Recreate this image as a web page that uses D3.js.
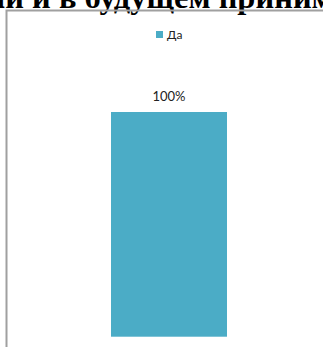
<!DOCTYPE html>
<html><head><meta charset="utf-8">
<script src="https://cdn.jsdelivr.net/npm/d3@7"></script>
<style>html,body{margin:0;padding:0;background:#fff;overflow:hidden}</style>
</head><body>
<svg id="c" width="323" height="347"></svg>
<script>
const categories = ["1"];
const seriesName = "Да";
const values = [1.0];
const dataLabels = ["100%"];
const titleText = "ли и в будущем принимать";

const svg = d3.select("#c");
const color = "#4bacc6";

// title (cut off at top, as in the reference)
svg.append("text").attr("x", -13).attr("y", 7.5)
  .attr("font-family", "Liberation Serif").attr("font-weight", "bold")
  .attr("font-size", 32.5).attr("fill", "#000").text(titleText);

// chart area border
svg.append("path").attr("d", "M6.5,347 V10.5 H323")
  .attr("fill", "none").attr("stroke", "#a0a0a0").attr("stroke-width", 2);

const x = d3.scaleBand().domain(categories).range([53, 285]).paddingInner(0.5).paddingOuter(0.25);
const y = d3.scaleLinear().domain([0, 1]).range([336.7, 112]);

svg.selectAll("rect.bar").data(values).join("rect").attr("class", "bar")
  .attr("x", (d, i) => x(categories[i])).attr("width", x.bandwidth())
  .attr("y", d => y(d)).attr("height", d => y(0) - y(d)).attr("fill", color);

svg.selectAll("text.lbl").data(values).join("text").attr("class", "lbl")
  .attr("x", (d, i) => x(categories[i]) + x.bandwidth() / 2).attr("y", d => y(d) - 11.5)
  .attr("text-anchor", "middle").attr("font-family", "Lato").attr("font-size", 13)
  .attr("fill", "#222").text((d, i) => dataLabels[i]);

// legend
const lg = svg.append("g").attr("transform", "translate(156,31)");
lg.append("rect").attr("width", 7).attr("height", 7).attr("fill", color);
lg.append("text").attr("x", 11).attr("y", 8).attr("font-family", "Lato").attr("font-size", 12)
  .attr("fill", "#222").text(seriesName);
</script>
</body></html>
